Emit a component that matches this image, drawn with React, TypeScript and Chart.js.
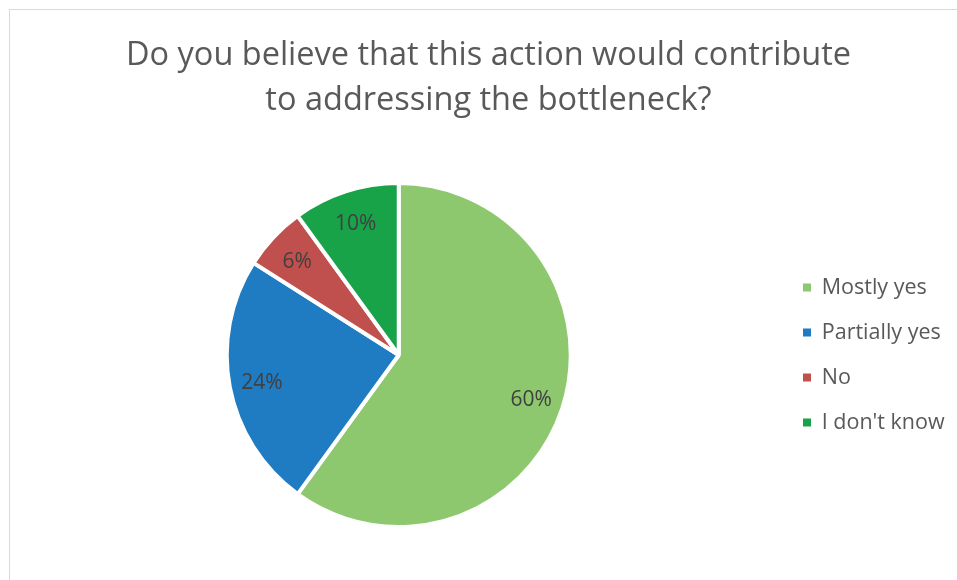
import React, { useEffect, useRef } from 'react';
import { Chart, registerables } from 'chart.js';

Chart.register(...registerables);

const TITLE_LINES = ['Do you believe that this action would contribute', 'to addressing the bottleneck?'];
const CATEGORIES = ['Mostly yes', 'Partially yes', 'No', "I don't know"];
const VALUES = [60, 24, 6, 10];
const COLORS = ['#8DC86F', '#1F7BC2', '#C0504D', '#18A349'];

const W = 947;
const H = 570;
const FONT = "'Open Sans', sans-serif";
const TEXT_COLOR = '#595959';
const LABEL_COLOR = '#404040';

export default function App() {
  const ref = useRef<HTMLCanvasElement>(null);

  useEffect(() => {
    const canvas = ref.current!;
    const ctx = canvas.getContext('2d')!;
    const legendFont = 21.5;
    const legendPad = 23.5;
    ctx.font = `${legendFont}px ${FONT}`;
    const maxText = Math.max(...CATEGORIES.map((c) => ctx.measureText(c).width));
    const boxW = 8;
    const legendItemX = 793;
    // Chart.js adds 10px to the width of vertical legends
    const padRight = W - legendItemX - (boxW + legendFont / 2 + maxText) - 10;

    const titlePlugin = {
      id: 'customTitle',
      afterDraw(chart: any) {
        const c = chart.ctx;
        c.save();
        c.font = `32.5px ${FONT}`;
        c.fillStyle = TEXT_COLOR;
        c.textAlign = 'center';
        c.textBaseline = 'alphabetic';
        TITLE_LINES.forEach((line, i) => {
          c.fillText(line, 478.5, 55 + i * 45);
        });
        c.restore();
      },
    };

    const labelPlugin = {
      id: 'sliceLabels',
      afterDatasetsDraw(chart: any) {
        const c = chart.ctx;
        const meta = chart.getDatasetMeta(0);
        c.save();
        c.font = `21px ${FONT}`;
        c.fillStyle = LABEL_COLOR;
        c.textAlign = 'center';
        c.textBaseline = 'middle';
        meta.data.forEach((arc: any, i: number) => {
          const p = arc.getProps(['x', 'y', 'startAngle', 'endAngle', 'outerRadius'], true);
          const mid = (p.startAngle + p.endAngle) / 2;
          const r = p.outerRadius * 0.81;
          c.fillText(`${VALUES[i]}%`, p.x + Math.cos(mid) * r, p.y + Math.sin(mid) * r + 2);
        });
        c.restore();
      },
    };

    const chart = new Chart(canvas, {
      type: 'pie',
      data: {
        labels: CATEGORIES,
        datasets: [
          {
            data: VALUES,
            backgroundColor: COLORS,
            borderColor: '#ffffff',
            borderWidth: 4,
            radius: 172,
          } as any,
        ],
      },
      options: {
        responsive: false,
        animation: false,
        devicePixelRatio: 1,
        layout: { padding: { left: 8, right: padRight, top: 120, bottom: 0 } },
        plugins: {
          title: { display: false },
          tooltip: { enabled: false },
          legend: {
            display: true,
            position: 'right',
            labels: {
              boxWidth: boxW,
              boxHeight: 8,
              padding: legendPad,
              color: TEXT_COLOR,
              font: { family: FONT, size: legendFont },
              generateLabels: () =>
                CATEGORIES.map((text, i) => ({
                  text,
                  fillStyle: COLORS[i],
                  strokeStyle: COLORS[i],
                  lineWidth: 0,
                  hidden: false,
                  index: i,
                  fontColor: TEXT_COLOR,
                })),
            },
          },
        },
      },
      plugins: [titlePlugin, labelPlugin],
    });

    return () => chart.destroy();
  }, []);

  return (
    <div
      style={{
        position: 'fixed',
        left: 9,
        top: 9,
        width: W,
        height: H,
        borderTop: '1px solid #d9d9d9',
        borderLeft: '1px solid #d9d9d9',
        background: '#ffffff',
        overflow: 'hidden',
      }}
    >
      <canvas ref={ref} width={W} height={H} style={{ display: 'block', width: W, height: H }} />
    </div>
  );
}
